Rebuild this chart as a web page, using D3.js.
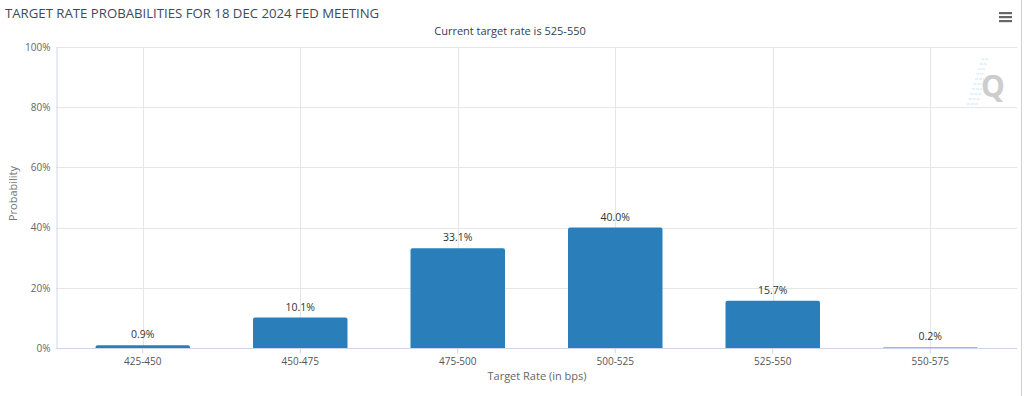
<!DOCTYPE html>
<html lang="en">
<head>
    <meta charset="UTF-8">
    <title>Target Rate Probabilities</title>
    <script src="https://d3js.org/d3.v7.min.js"></script>
    <style>
        body { margin: 0; background: #fff; }
        svg { font-family: "Open Sans", sans-serif; display: block; }
    </style>
</head>
<body>
    <script>
        // chart data
        const categories = ["425-450", "450-475", "475-500", "500-525", "525-550", "550-575"];
        const probabilities = [0.9, 10.1, 33.1, 40.0, 15.7, 0.2];
        const yTicks = [0, 20, 40, 60, 80, 100];

        const width = 1024;
        const height = 396;
        const plot = { left: 56, right: 1017, top: 47, bottom: 348 };

        const svg = d3.select("body")
            .append("svg")
            .attr("width", width)
            .attr("height", height);

        const x = d3.scaleBand()
            .domain(categories)
            .range([plot.left + 8, plot.right - 8])
            .paddingInner(0.4)
            .paddingOuter(0.2);

        const y = d3.scaleLinear()
            .domain([0, 100])
            .range([plot.bottom, plot.top]);

        // container border on right
        svg.append("line")
            .attr("x1", 1021.5).attr("x2", 1021.5)
            .attr("y1", 0).attr("y2", height)
            .attr("stroke", "#d0d0d0");

        // horizontal grid
        svg.append("g")
            .selectAll("line")
            .data(yTicks)
            .join("line")
            .attr("x1", plot.left)
            .attr("x2", plot.right)
            .attr("y1", d => Math.round(y(d)) + 0.5)
            .attr("y2", d => Math.round(y(d)) + 0.5)
            .attr("stroke", "#e6e6e6");

        // vertical grid at category centers
        svg.append("g")
            .selectAll("line")
            .data(categories)
            .join("line")
            .attr("x1", d => Math.round(x(d) + x.bandwidth() / 2) + 0.5)
            .attr("x2", d => Math.round(x(d) + x.bandwidth() / 2) + 0.5)
            .attr("y1", plot.top)
            .attr("y2", plot.bottom)
            .attr("stroke", "#e6e6e6");

        // y axis
        const yAxis = svg.append("g")
            .attr("transform", `translate(${plot.left + 0.5},0)`)
            .call(d3.axisLeft(y).tickValues(yTicks).tickSize(0).tickPadding(6).tickFormat(d => d + "%"));
        yAxis.select(".domain").attr("stroke", "#ccd6eb");
        yAxis.selectAll("text")
            .attr("fill", "#666")
            .style("font-size", "10px")
            .style("font-family", "Open Sans, sans-serif");

        // bars
        svg.append("g")
            .selectAll("path")
            .data(probabilities)
            .join("path")
            .attr("fill", "#2a7fba")
            .attr("d", (d, i) => {
                const x0 = x(categories[i]), w = x.bandwidth();
                const y0 = y(d), y1 = y(0);
                const r = Math.min(2, (y1 - y0));
                return `M${x0},${y1}V${y0 + r}Q${x0},${y0} ${x0 + r},${y0}H${x0 + w - r}Q${x0 + w},${y0} ${x0 + w},${y0 + r}V${y1}Z`;
            });

        // x axis
        const xAxis = svg.append("g")
            .attr("transform", `translate(0,${plot.bottom + 0.5})`)
            .call(d3.axisBottom(x).tickSize(5).tickPadding(4).tickSizeOuter(0));
        xAxis.select(".domain").attr("stroke", "#ccd6eb").attr("d", `M${plot.left},0H${plot.right}`);
        xAxis.selectAll(".tick line").attr("stroke", "#ccd6eb");
        xAxis.selectAll("text")
            .attr("fill", "#555")
            .style("font-size", "10px")
            .style("font-family", "Open Sans, sans-serif");

        // value labels
        svg.append("g")
            .selectAll("text")
            .data(probabilities)
            .join("text")
            .attr("x", (d, i) => x(categories[i]) + x.bandwidth() / 2)
            .attr("y", d => y(d) - 7)
            .attr("text-anchor", "middle")
            .attr("fill", "#333")
            .style("font-size", "10.5px")
            .text(d => d.toFixed(1) + "%");

        // titles
        svg.append("text")
            .attr("x", 5)
            .attr("y", 18)
            .attr("fill", "#3d4a5c")
            .style("font-size", "13.2px")
            .text("TARGET RATE PROBABILITIES FOR 18 DEC 2024 FED MEETING");

        svg.append("text")
            .attr("x", 510)
            .attr("y", 35)
            .attr("text-anchor", "middle")
            .attr("fill", "#333e50")
            .style("font-size", "11px")
            .text("Current target rate is 525-550");

        svg.append("text")
            .attr("transform", `translate(17,${(plot.top + plot.bottom) / 2 - 4}) rotate(-90)`)
            .attr("text-anchor", "middle")
            .attr("fill", "#777")
            .style("font-size", "11px")
            .text("Probability");

        svg.append("text")
            .attr("x", 537)
            .attr("y", 380)
            .attr("text-anchor", "middle")
            .attr("fill", "#666")
            .style("font-size", "11px")
            .text("Target Rate (in bps)");

        // menu icon
        svg.append("g")
            .selectAll("rect")
            .data([0, 1, 2])
            .join("rect")
            .attr("x", 999)
            .attr("y", d => 12 + d * 4)
            .attr("width", 13)
            .attr("height", 2.2)
            .attr("fill", "#666");

        // watermark logo
        const logo = svg.append("g").attr("opacity", 0.9);
        logo.selectAll("line")
            .data(d3.range(10))
            .join("line")
            .attr("x1", d => 967 + d * 1.6)
            .attr("x2", d => 967 + d * 1.6 + 12 - d * 0.6)
            .attr("y1", d => 104 - d * 5)
            .attr("y2", d => 104 - d * 5)
            .attr("stroke", "#bfe3f5")
            .attr("stroke-width", 1)
            .attr("stroke-dasharray", "3,1");
        logo.append("text")
            .attr("x", 993)
            .attr("y", 97)
            .attr("text-anchor", "middle")
            .attr("fill", "#c8c8c8")
            .style("font-size", "30px")
            .style("font-weight", "bold")
            .text("Q");
    </script>
</body>
</html>
